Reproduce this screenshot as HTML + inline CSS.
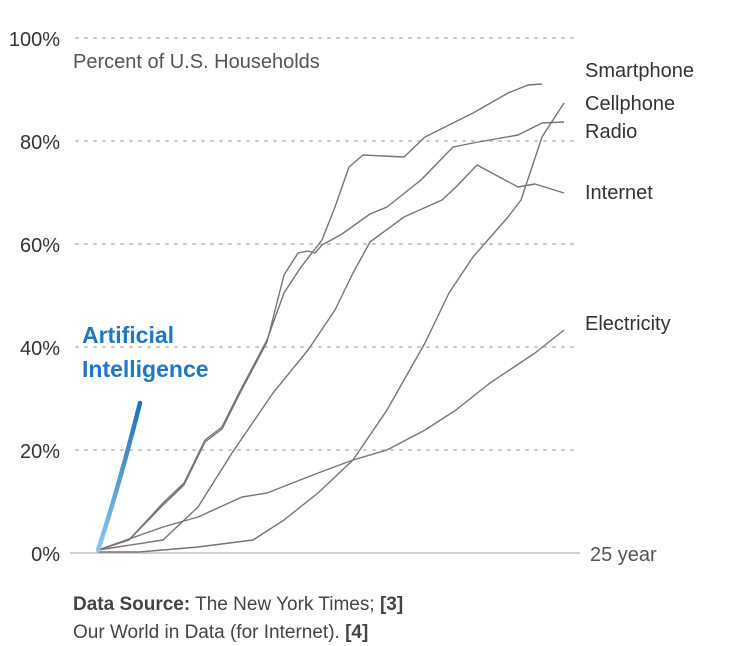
<!DOCTYPE html>
<html><head><meta charset="utf-8"><style>
html,body{margin:0;padding:0;background:#fff;}
svg{display:block;font-family:"Liberation Sans",sans-serif;}
</style></head><body>
<svg width="733" height="646" viewBox="0 0 733 646">
<defs><linearGradient id="ai" x1="0" y1="1" x2="0" y2="0"><stop offset="0" stop-color="#8cc6ec"/><stop offset="1" stop-color="#1f6fb5"/></linearGradient></defs>
<g stroke="#c8c8c8" stroke-width="2" stroke-dasharray="2,7" stroke-linecap="round">
<line x1="76" y1="38" x2="580" y2="38"/><line x1="76" y1="141" x2="580" y2="141"/>
<line x1="76" y1="244" x2="580" y2="244"/><line x1="76" y1="347" x2="580" y2="347"/>
<line x1="76" y1="450" x2="580" y2="450"/></g>
<line x1="70" y1="553" x2="580" y2="553" stroke="#d0d0d0" stroke-width="2"/>
<g font-size="20" fill="#333" text-anchor="end">
<text x="60" y="46">100%</text><text x="60" y="149">80%</text><text x="60" y="252">60%</text>
<text x="60" y="355">40%</text><text x="60" y="458">20%</text><text x="60" y="561">0%</text></g>
<text x="73" y="68" font-size="20" fill="#555">Percent of U.S. Households</text>
<g font-size="20" fill="#333">
<text x="585" y="77">Smartphone</text><text x="585" y="110">Cellphone</text><text x="585" y="138">Radio</text>
<text x="585" y="199">Internet</text><text x="585" y="330">Electricity</text><text x="590" y="561" fill="#555">25 year</text></g>
<g fill="none" stroke="#7a7470" stroke-width="1.4" stroke-linejoin="round">
<polyline points="98,550 129,540 163,503 184,483 205,440 222,427 239,393 267,340 284,293 301,267 322,240 335,207 349,167 363,155 404,157 425,137 439,130 473,113 508,93 528,85 542,84"/>
<polyline points="98,550 129,540 163,505 184,485 205,442 222,429 239,395 267,342 284,275 298,253 308,251 315,253 322,245 342,234 370,214 387,207 421,180 453,147 473,143 518,135 542,123 564,122"/>
<polyline points="98,552 139,552 198,547 253,540 284,520 318,493 353,460 387,410 425,343 449,293 473,257 508,217 521,200 542,137 564,103"/>
<polyline points="98,550 163,540 198,507 232,453 273,393 308,350 335,310 353,273 370,242 404,217 442,200 456,187 477,165 518,187 535,184 564,193"/>
<polyline points="98,550 163,527 198,517 242,497 267,493 318,473 353,460 387,450 425,430 456,410 490,383 535,353 564,330"/>
</g>
<path d="M98,550 Q118,490 140,403" stroke="url(#ai)" stroke-width="4.5" fill="none" stroke-linecap="round"/>
<g font-size="23" font-weight="bold" fill="#1f78c1"><text x="82" y="343">Artificial</text><text x="82" y="377">Intelligence</text></g>
<g font-size="19" fill="#444"><text x="73" y="610"><tspan font-weight="bold">Data Source:</tspan> The New York Times; <tspan font-weight="bold">[3]</tspan></text>
<text x="73" y="638">Our World in Data (for Internet). <tspan font-weight="bold">[4]</tspan></text></g>
</svg>
</body></html>
